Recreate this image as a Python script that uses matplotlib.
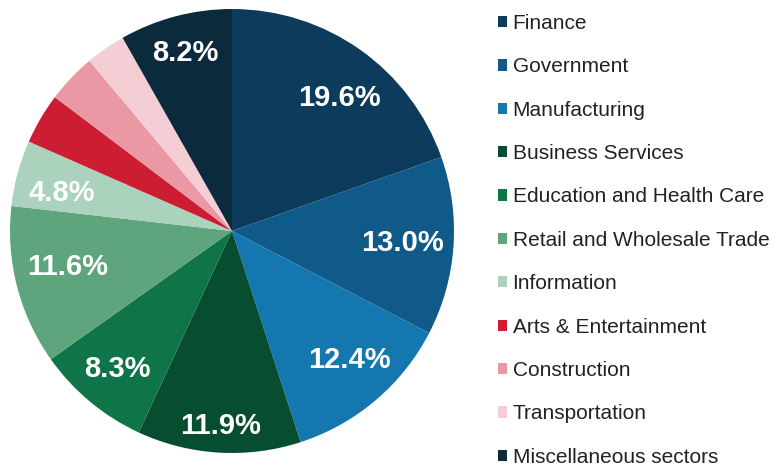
import numpy as np
import matplotlib.pyplot as plt
from matplotlib.patches import Patch

plt.rcParams['font.family'] = ['Liberation Sans', 'DejaVu Sans']

# ====== dados ======
sectors = ["Finance", "Government", "Manufacturing", "Business Services",
           "Education and Health Care", "Retail and Wholesale Trade",
           "Information", "Arts & Entertainment", "Construction",
           "Transportation", "Miscellaneous sectors"]
shares = [19.6, 13.0, 12.4, 11.9, 8.3, 11.6, 4.8, 3.7, 3.6, 2.9, 8.2]
shown = [True, True, True, True, True, True, True, False, False, False, True]

colors = ["#0c3b5c", "#0f5a88", "#1577b0", "#074d2f", "#0f7447", "#5ea57d",
          "#aad2bc", "#cd1d33", "#ea98a3", "#f5cdd4", "#0b2a3c"]
# posicao de cada rotulo: raio relativo e desvio angular (graus)
label_r = [0.77, 0.77, 0.785, 0.88, 0.81, 0.76, 0.785, 0, 0, 0, 0.83]
label_da = [-3.5, 0, 2, 0, 0, -2, 2.5, 0, 0, 0, 0]

W, H = 784, 468
fig = plt.figure(figsize=(W / 100, H / 100), dpi=100)

cx, cy, R = 232, 231, 222
ax = fig.add_axes([(cx - R) / W, (H - cy - R) / H, 2 * R / W, 2 * R / H])
wedges, _ = ax.pie(shares, colors=colors, startangle=90, counterclock=False,
                   radius=1.0, wedgeprops=dict(linewidth=0))
ax.set_xlim(-1, 1)
ax.set_ylim(-1, 1)
ax.set_aspect("equal")
ax.axis("off")

for w, val, show, r, da in zip(wedges, shares, shown, label_r, label_da):
    if not show:
        continue
    ang = np.deg2rad((w.theta1 + w.theta2) / 2 + da)
    ax.text(r * np.cos(ang), r * np.sin(ang), f"{val:.1f}%", color="white",
            fontsize=21, fontweight="bold", ha="center", va="center")

handles = [Patch(facecolor=c, edgecolor="none") for c in colors]
fig.legend(handles, sectors, loc="upper left", bbox_to_anchor=(498 / W, 1 - 14 / H),
           frameon=False, fontsize=15, labelcolor="#222222",
           handlelength=0.45, handleheight=0.45, handletextpad=0.25,
           labelspacing=1.17, borderpad=0, borderaxespad=0)

fig.savefig("out.png", dpi=100)
